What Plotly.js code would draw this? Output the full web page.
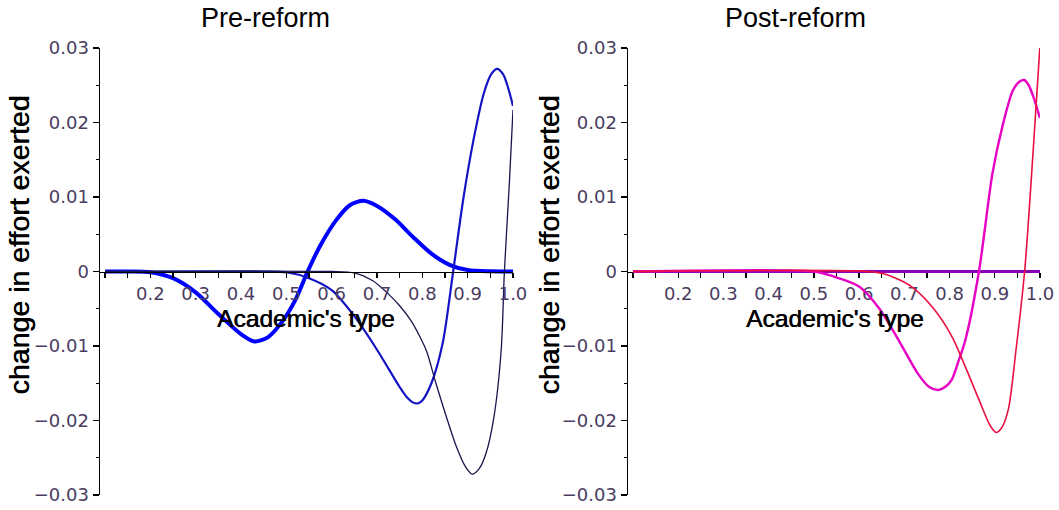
<!DOCTYPE html>
<html>
<head>
<meta charset="utf-8">
<script src="https://cdn.plot.ly/plotly-3.0.1.min.js"></script>
<style>
  html, body { margin: 0; padding: 0; background: #ffffff; }
  #chart { width: 1059px; height: 510px; }
</style>
</head>
<body>
<div id="chart"></div>
<script>
// ---------- data ----------
const panelTitles = ["Pre-reform", "Post-reform"];
const xAxisTitle = "Academic's type";
const yAxisTitle = "change in effort exerted";

const xTickVals = [0.1, 0.15, 0.2, 0.25, 0.3, 0.35, 0.4, 0.45, 0.5, 0.55, 0.6, 0.65, 0.7, 0.75, 0.8, 0.85, 0.9, 0.95, 1.0];
const xTickText = ["", "", "0.2", "", "0.3", "", "0.4", "", "0.5", "", "0.6", "", "0.7", "", "0.8", "", "0.9", "", "1.0"];
const yTickVals = [0.03, 0.02, 0.01, 0, -0.01, -0.02, -0.03];
const yTickText = ["0.03", "0.02", "0.01", "0", "\u22120.01", "\u22120.02", "\u22120.03"];
const yMinorVals = [0.025, 0.015, 0.005, -0.005, -0.015, -0.025];

// Pre-reform: thick blue curve
const preThickX = [0.10, 0.15, 0.20, 0.25, 0.30, 0.35, 0.40, 0.43, 0.46, 0.49, 0.52, 0.547, 0.575, 0.61, 0.64, 0.67, 0.70, 0.74, 0.78, 0.82, 0.86, 0.90, 0.95, 1.0];
const preThickY = [0, 0, -0.0001, -0.0009, -0.0028, -0.0057, -0.0084, -0.0094, -0.0088, -0.0068, -0.0038, 0, 0.0035, 0.0069, 0.0089, 0.0095, 0.0088, 0.0070, 0.0046, 0.0024, 0.0009, 0.0002, 0.00002, 0];

// Pre-reform: medium blue curve
const preMidX = [0.10, 0.45, 0.50, 0.55, 0.60, 0.65, 0.70, 0.725, 0.75, 0.765, 0.78, 0.79, 0.80, 0.82, 0.845, 0.868, 0.89, 0.913, 0.936, 0.952, 0.965, 0.978, 0.99, 1.0];
const preMidY = [0, 0, -0.0001, -0.0009, -0.0025, -0.006, -0.0105, -0.013, -0.0155, -0.0168, -0.0176, -0.0177, -0.0173, -0.015, -0.0096, 0, 0.0096, 0.0177, 0.024, 0.0265, 0.0272, 0.0265, 0.0245, 0.0222];

// Pre-reform: thin navy curve
const preThinX = [0.10, 0.60, 0.65, 0.69, 0.725, 0.75, 0.775, 0.795, 0.81, 0.83, 0.853, 0.875, 0.895, 0.91, 0.925, 0.94, 0.958, 0.974, 0.981, 0.992, 1.0];
const preThinY = [0, 0, -0.0002, -0.0012, -0.0030, -0.0046, -0.0066, -0.0088, -0.0108, -0.015, -0.0195, -0.0235, -0.0262, -0.0272, -0.0265, -0.0245, -0.0195, -0.0105, 0, 0.0119, 0.0217];

// Post-reform: flat purple curve
const postFlatX = [0.10, 1.0];
const postFlatY = [0, 0];

// Post-reform: magenta curve
const postMagX = [0.10, 0.50, 0.54, 0.60, 0.645, 0.69, 0.73, 0.755, 0.775, 0.79, 0.805, 0.82, 0.835, 0.865, 0.895, 0.917, 0.94, 0.955, 0.965, 0.975, 0.985, 1.0];
const postMagY = [0, 0, -0.0006, -0.002, -0.005, -0.0095, -0.0137, -0.0155, -0.0159, -0.0155, -0.0145, -0.012, -0.0092, 0, 0.0132, 0.0195, 0.0243, 0.0255, 0.0257, 0.025, 0.0235, 0.0206];

// Post-reform: red curve
const postRedX = [0.10, 0.62, 0.66, 0.715, 0.765, 0.805, 0.835, 0.865, 0.89, 0.903, 0.915, 0.93, 0.947, 0.966, 0.985, 1.0];
const postRedY = [0, 0, -0.0004, -0.002, -0.005, -0.0087, -0.0128, -0.0172, -0.0207, -0.0216, -0.021, -0.0185, -0.0105, 0, 0.0163, 0.0304];

// ---------- traces ----------
function line(x, y, xa, ya, color, width) {
  return { x: x, y: y, xaxis: xa, yaxis: ya, type: 'scatter', mode: 'lines',
           line: { color: color, width: width, shape: 'spline', smoothing: 0.8 },
           hoverinfo: 'skip', showlegend: false };
}

const data = [
  line(preThickX, preThickY, 'x', 'y', '#0000ff', 4),
  line(preMidX, preMidY, 'x', 'y', '#1414c4', 2.2),
  line(preThinX, preThinY, 'x', 'y', '#16164e', 1.3),
  line(postFlatX, postFlatY, 'x2', 'y2', '#8a00b4', 3),
  line(postMagX, postMagY, 'x2', 'y2', '#e800c4', 2.4),
  line(postRedX, postRedY, 'x2', 'y2', '#ea1040', 1.6)
];

// ---------- layout ----------
const W = 1059;
const tickFont = { family: 'DejaVu Sans', size: 18, color: '#4a3c60' };

function xAxis(domain, layer) {
  return {
    domain: domain, range: [0.089, 1.0], anchor: 'free', position: 0.5,
    showline: true, linecolor: '#000000', linewidth: 1.5,
    ticks: 'outside', ticklen: 5, tickwidth: 1.3, tickcolor: '#000000',
    tickvals: xTickVals, ticktext: xTickText, tickfont: tickFont,
    showgrid: false, zeroline: false, fixedrange: true, layer: layer
  };
}
function yAxis(anchor) {
  return {
    domain: [0, 1], range: [-0.03, 0.03], anchor: anchor, side: 'left',
    showline: true, linecolor: '#000000', linewidth: 1.5,
    ticks: 'outside', ticklen: 6, tickwidth: 1.3, tickcolor: '#000000',
    tickvals: yTickVals, ticktext: yTickText, tickfont: tickFont,
    minor: { tickvals: yMinorVals, ticks: 'outside', ticklen: 3, tickcolor: '#000000', tickwidth: 1.3, showgrid: false },
    showgrid: false, zeroline: false, fixedrange: true
  };
}

const titleFont = { family: 'Liberation Sans, Arial, sans-serif', size: 27, color: '#000000' };
const xTitleFont = { family: 'Liberation Sans, Arial, sans-serif', size: 24.5, color: '#000000', shadow: '0.6px 0px 0px #000000' };
const yTitleFont = { family: 'Liberation Sans, Arial, sans-serif', size: 28.5, color: '#000000', shadow: '0.6px 0px 0px #000000' };

const layout = {
  width: W, height: 510,
  margin: { l: 0, r: 0, t: 48, b: 15 },
  paper_bgcolor: '#ffffff', plot_bgcolor: '#ffffff',
  showlegend: false,
  xaxis: xAxis([100 / W, 513 / W], 'above traces'),
  yaxis: yAxis('x'),
  xaxis2: xAxis([628 / W, 1040 / W], 'below traces'),
  yaxis2: yAxis('x2'),
  annotations: [
    { text: panelTitles[0], xref: 'paper', yref: 'paper', x: 265 / W, y: 1, yshift: 30, showarrow: false, font: titleFont, xanchor: 'center', yanchor: 'middle' },
    { text: panelTitles[1], xref: 'paper', yref: 'paper', x: 795 / W, y: 1, yshift: 30, showarrow: false, font: titleFont, xanchor: 'center', yanchor: 'middle' },
    { text: xAxisTitle, xref: 'paper', yref: 'paper', x: 306 / W, y: 0.5, yshift: -47, showarrow: false, font: xTitleFont, xanchor: 'center', yanchor: 'middle' },
    { text: xAxisTitle, xref: 'paper', yref: 'paper', x: 835 / W, y: 0.5, yshift: -47, showarrow: false, font: xTitleFont, xanchor: 'center', yanchor: 'middle' },
    { text: yAxisTitle, xref: 'paper', yref: 'paper', x: 18 / W, y: 0.5, yshift: 26, showarrow: false, font: yTitleFont, textangle: -90, xanchor: 'center', yanchor: 'middle' },
    { text: yAxisTitle, xref: 'paper', yref: 'paper', x: 548 / W, y: 0.5, yshift: 26, showarrow: false, font: yTitleFont, textangle: -90, xanchor: 'center', yanchor: 'middle' }
  ]
};

Plotly.newPlot('chart', data, layout, { staticPlot: true, displayModeBar: false });
</script>
</body>
</html>
